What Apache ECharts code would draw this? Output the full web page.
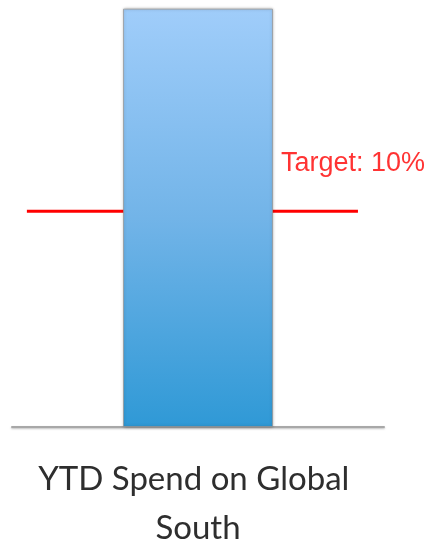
<!DOCTYPE html>
<html>
<head>
<meta charset="utf-8">
<script src="https://cdn.jsdelivr.net/npm/echarts@6/dist/echarts.min.js"></script>
<style>html,body{margin:0;padding:0;background:#fff}#c{width:425px;height:545px}</style>
</head>
<body>
<div id="c"></div>
<script>
const categories = ["YTD Spend on Global South"];
const spendValues = [19.4];
const targetValue = 10;
const targetLabel = "Target: 10%";

const chart = echarts.init(document.getElementById('c'), null, {renderer: 'canvas'});
chart.setOption({
  animation: false,
  grid: {left: 12, right: 41, top: 0, bottom: 118, outerBoundsMode: 'none', containLabel: false},
  xAxis: [{
    type: 'category',
    data: categories,
    axisLine: {show: true, lineStyle: {color: '#a8a8a8', width: 2, shadowColor: 'rgba(0,0,0,0.25)', shadowBlur: 2, shadowOffsetY: 1}},
    axisTick: {show: false},
    axisLabel: {
      margin: 28,
      fontFamily: 'Lato',
      fontSize: 33,
      lineHeight: 49,
      color: '#2e2e2e',
      width: 340,
      overflow: 'break',
      align: 'center'
    }
  }, {
    type: 'value', min: 0, max: 1, show: false
  }],
  yAxis: {type: 'value', min: 0, max: 19.8, show: false, splitLine: {show: false}},
  series: [{
    type: 'line',
    xAxisIndex: 1,
    z: 1,
    data: [[0.04, targetValue], [0.93, targetValue]],
    symbol: 'none',
    lineStyle: {color: '#ff0000', width: 3},
    label: {show: false}
  }, {
    type: 'bar',
    xAxisIndex: 0,
    z: 3,
    data: spendValues,
    barWidth: 150,
    itemStyle: {
      color: new echarts.graphic.LinearGradient(0, 0, 0, 1, [
        {offset: 0, color: '#a0cdfa'},
        {offset: 0.5, color: '#72b4e8'},
        {offset: 1, color: '#2f99d6'}
      ]),
      borderColor: 'rgba(150,150,150,0.7)',
      borderWidth: 1,
      shadowColor: 'rgba(0,0,0,0.3)',
      shadowBlur: 3
    }
  }, {
    type: 'scatter',
    xAxisIndex: 1,
    z: 4,
    symbolSize: 0,
    data: [[0.93, targetValue]],
    label: {
      show: true,
      formatter: targetLabel,
      position: [-77, -61],
      align: 'left',
      verticalAlign: 'top',
      fontFamily: 'Liberation Sans, Arial, sans-serif',
      fontSize: 27,
      lineHeight: 27,
      color: '#ff0000'
    }
  }]
});
</script>
</body>
</html>
